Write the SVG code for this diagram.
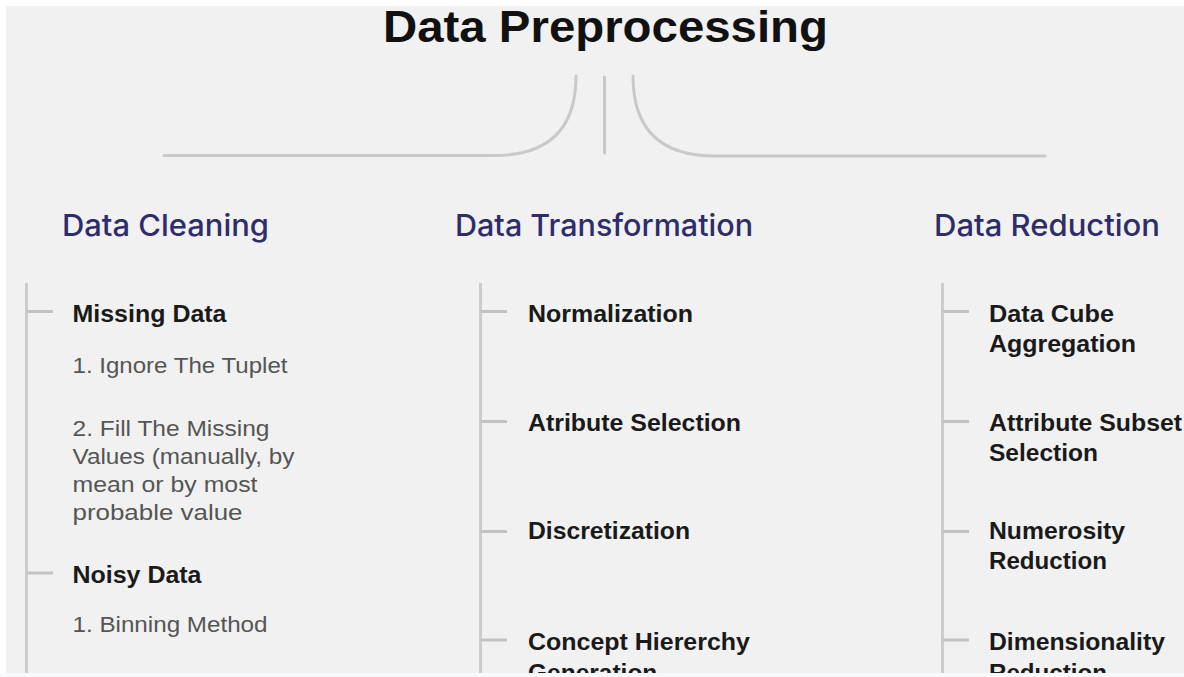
<svg xmlns="http://www.w3.org/2000/svg" width="1184" height="677" viewBox="0 0 1184 677">
<style>
.bg{fill:#f1f1f1}
.conn{fill:none;stroke:#c9c9c9;stroke-width:3;stroke-linecap:round}
.tree{fill:none;stroke:#cccccc;stroke-width:3}
.tick{fill:none;stroke:#c2c2c2;stroke-width:3}
.title{font-family:"Liberation Sans",Arial,sans-serif;font-size:45px;font-weight:bold;fill:#111111}
.head{font-family:Inter,"Liberation Sans",Arial,sans-serif;font-size:30px;font-weight:500;fill:#2e2c6b}
.item{font-family:"Liberation Sans",Arial,sans-serif;font-size:24.5px;font-weight:bold;fill:#1a1a1a}
.sub{font-family:"Liberation Sans",Arial,sans-serif;font-size:22px;fill:#555555}
</style>
<rect x="0" y="0" width="1184" height="677" fill="#ffffff"/>
<rect class="bg" x="6" y="6" width="1178" height="667"/>
<g id="title">
<text class="title" x="383" y="42" textLength="445" lengthAdjust="spacingAndGlyphs">Data Preprocessing</text>
</g>
<g id="connectors">
<path class="conn" d="M164 155.5 H494 Q576 155.5 576 76"/>
<path class="conn" d="M604.5 77 V153"/>
<path class="conn" d="M633 76 Q633 156 715 156 H1045"/>
<path class="tree" d="M26.5 283 V673"/>
<path class="tick" d="M26.5 311.5 H53"/>
<path class="tick" d="M26.5 573 H53"/>
<path class="tree" d="M480.5 283 V673"/>
<path class="tick" d="M480.5 311.5 H507"/>
<path class="tick" d="M480.5 421.5 H507"/>
<path class="tick" d="M480.5 531.5 H507"/>
<path class="tick" d="M480.5 640 H507"/>
<path class="tree" d="M942.5 283 V673"/>
<path class="tick" d="M942.5 311.5 H969"/>
<path class="tick" d="M942.5 421.5 H969"/>
<path class="tick" d="M942.5 531.5 H969"/>
<path class="tick" d="M942.5 640 H969"/>
</g>
<g id="data-cleaning">
<text class="head" x="62" y="236" textLength="207" lengthAdjust="spacingAndGlyphs">Data Cleaning</text>
</g>
<g id="data-transformation">
<text class="head" x="455" y="236" textLength="298" lengthAdjust="spacingAndGlyphs">Data Transformation</text>
</g>
<g id="data-reduction">
<text class="head" x="934" y="236" textLength="226" lengthAdjust="spacingAndGlyphs">Data Reduction</text>
</g>
<g id="missing-data">
<text class="item" x="72.5" y="321.5" textLength="154" lengthAdjust="spacingAndGlyphs">Missing Data</text>
</g>
<g id="ignore-tuplet">
<text class="sub" x="72.5" y="373" textLength="215" lengthAdjust="spacingAndGlyphs">1. Ignore The Tuplet</text>
</g>
<g id="fill-missing">
<text class="sub" x="72.5" y="435.5" textLength="197" lengthAdjust="spacingAndGlyphs">2. Fill The Missing</text>
<text class="sub" x="72.5" y="463.5" textLength="222" lengthAdjust="spacingAndGlyphs">Values (manually, by</text>
<text class="sub" x="72.5" y="491.7" textLength="185" lengthAdjust="spacingAndGlyphs">mean or by most</text>
<text class="sub" x="72.5" y="520" textLength="170" lengthAdjust="spacingAndGlyphs">probable value</text>
</g>
<g id="noisy-data">
<text class="item" x="72.5" y="583" textLength="129" lengthAdjust="spacingAndGlyphs">Noisy Data</text>
</g>
<g id="binning">
<text class="sub" x="72.5" y="631.5" textLength="195" lengthAdjust="spacingAndGlyphs">1. Binning Method</text>
</g>
<g id="normalization">
<text class="item" x="528" y="321.5" textLength="165" lengthAdjust="spacingAndGlyphs">Normalization</text>
</g>
<g id="atribute-selection">
<text class="item" x="528" y="431" textLength="213" lengthAdjust="spacingAndGlyphs">Atribute Selection</text>
</g>
<g id="discretization">
<text class="item" x="528" y="538.5" textLength="162" lengthAdjust="spacingAndGlyphs">Discretization</text>
</g>
<g id="concept-hierarchy">
<text class="item" x="528" y="650" textLength="222" lengthAdjust="spacingAndGlyphs">Concept Hiererchy</text>
<text class="item" x="528" y="680.5">Generation</text>
</g>
<g id="data-cube">
<text class="item" x="989" y="321.5" textLength="125" lengthAdjust="spacingAndGlyphs">Data Cube</text>
<text class="item" x="989" y="351.5" textLength="147" lengthAdjust="spacingAndGlyphs">Aggregation</text>
</g>
<g id="attribute-subset">
<text class="item" x="989" y="430.5" textLength="193" lengthAdjust="spacingAndGlyphs">Attribute Subset</text>
<text class="item" x="989" y="460.5" textLength="109" lengthAdjust="spacingAndGlyphs">Selection</text>
</g>
<g id="numerosity">
<text class="item" x="989" y="539" textLength="136" lengthAdjust="spacingAndGlyphs">Numerosity</text>
<text class="item" x="989" y="569" textLength="118" lengthAdjust="spacingAndGlyphs">Reduction</text>
</g>
<g id="dimensionality">
<text class="item" x="989" y="650" textLength="176" lengthAdjust="spacingAndGlyphs">Dimensionality</text>
<text class="item" x="989" y="680.5" textLength="118" lengthAdjust="spacingAndGlyphs">Reduction</text>
</g>
<rect x="0" y="673" width="1184" height="4" fill="#f7f9fb"/>
</svg>
